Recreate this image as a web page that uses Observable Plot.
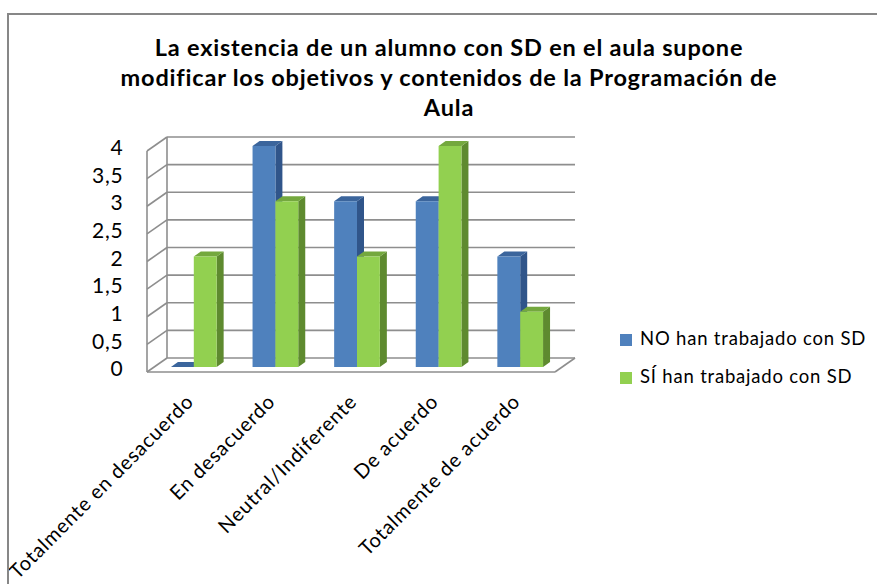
<!DOCTYPE html>
<html><head><meta charset="utf-8">
<script src="https://cdn.jsdelivr.net/npm/d3@7"></script>
<script src="https://cdn.jsdelivr.net/npm/@observablehq/plot@0.6"></script>
<style>
body{margin:0;background:#fff;}
#wrap{position:relative;width:877px;height:584px;overflow:hidden;font-family:Lato,"Open Sans",sans-serif;color:#000;}
#frame{position:absolute;left:7px;top:13px;width:920px;height:620px;border-left:2px solid #878787;border-top:2px solid #878787;box-sizing:border-box;pointer-events:none;}
#chart{position:absolute;left:0;top:0;}
#chart text{letter-spacing:0.8px;}
#title{position:absolute;left:0;width:898px;top:32px;text-align:center;font-weight:bold;font-size:23.5px;letter-spacing:0.8px;line-height:30px;}
.leg{position:absolute;left:620px;font-size:18.5px;letter-spacing:0.8px;line-height:20px;white-space:nowrap;}
.leg span{display:inline-block;width:12px;height:12px;margin-right:8px;vertical-align:-1px;}
</style>
</head><body>
<div id="wrap">
  <div id="chart"></div>
  <div id="title">La existencia de un alumno con SD en el aula supone<br>modificar los objetivos y contenidos de la Programación de<br>Aula</div>
  <div id="legend"></div>
  <div id="frame"></div>
</div>
<script>
const categories = ["Totalmente en desacuerdo","En desacuerdo","Neutral/Indiferente","De acuerdo","Totalmente de acuerdo"];
const seriesNames = ["NO han trabajado con SD","SÍ han trabajado con SD"];
const noValues = [0,4,3,3,2];
const siValues = [2,3,2,4,1];
const yTicks = [0,0.5,1,1.5,2,2.5,3,3.5,4];
const yTickLabels = ["0","0,5","1","1,5","2","2,5","3","3,5","4"];

const colors = [
  {front:"#4f81bd", side:"#30558a", top:"#3b659c"},
  {front:"#92d050", side:"#5e8a2f", top:"#74a83e"}
];

// geometry (pixel offsets for the oblique 3D look)
const SDX = 7, SDY = 5;        // bar depth
const FX = -6, FY = 5;         // front plane offset vs bar plane
const BX = 14, BY = 9;         // back plane offset vs bar plane
const groupStart = 0.22, barW = 0.28;

const rows = [];
categories.forEach((c, i) => {
  rows.push({cat: c, i, s: 0, value: noValues[i]});
  rows.push({cat: c, i, s: 1, value: siValues[i]});
});

function bars3d(s) {
  const col = colors[s];
  return Plot.rect(rows.filter(d => d.s === s), {
    x1: d => d.i + groupStart + d.s * barW,
    x2: d => d.i + groupStart + (d.s + 1) * barW,
    y1: 0, y2: "value", fill: col.front,
    render(index, scales, values) {
      const g = d3.create("svg:g");
      for (const i of index) {
        const x1 = values.x1[i], x2 = values.x2[i];
        const yt = Math.min(values.y1[i], values.y2[i]), yb = Math.max(values.y1[i], values.y2[i]);
        g.append("path").attr("fill", col.side)
          .attr("d", `M${x2},${yb}L${x2+SDX},${yb-SDY}L${x2+SDX},${yt-SDY}L${x2},${yt}Z`);
        g.append("path").attr("fill", col.top)
          .attr("d", `M${x1},${yt}L${x1+SDX},${yt-SDY}L${x2+SDX},${yt-SDY}L${x2},${yt}Z`);
        g.append("rect").attr("fill", col.front)
          .attr("x", x1).attr("y", yt).attr("width", x2 - x1).attr("height", yb - yt);
      }
      return g.node();
    }
  });
}

const walls = Plot.ruleY(yTicks, {
  y: d => d,
  render(index, scales, values, dims) {
    const xL = dims.marginLeft, xR = dims.width - dims.marginRight;
    const y0 = scales.y(0), yTop = scales.y(4);
    const g = d3.create("svg:g").attr("stroke", "#8e8e8e").attr("stroke-width", 1.6).attr("fill", "none");
    g.append("path").attr("fill", "#fff").attr("stroke", "none")
      .attr("d", `M${xL+FX},${y0+FY}L${xR+FX},${y0+FY}L${xR+BX},${y0-BY}L${xL+BX},${y0-BY}Z`);
    for (const i of index) {
      const y = values.y[i];
      g.append("line").attr("x1", xL+BX).attr("x2", xR+BX).attr("y1", y-BY).attr("y2", y-BY);
      g.append("line").attr("x1", xL+FX).attr("x2", xL+BX).attr("y1", y+FY).attr("y2", y-BY);
    }
    g.append("line").attr("x1", xL+BX).attr("x2", xL+BX).attr("y1", y0-BY).attr("y2", yTop-BY);
    g.append("line").attr("x1", xL+FX).attr("x2", xL+FX).attr("y1", y0+FY).attr("y2", yTop+FY);
    g.append("line").attr("x1", xL+FX).attr("x2", xR+FX).attr("y1", y0+FY).attr("y2", y0+FY);
    g.append("line").attr("x1", xR+FX).attr("x2", xR+BX).attr("y1", y0+FY).attr("y2", y0-BY);
    return g.node();
  }
});

const plot = Plot.plot({
  width: 877, height: 584,
  marginLeft: 153, marginRight: 316, marginTop: 146, marginBottom: 217,
  style: {fontFamily: "Lato, 'Open Sans', sans-serif", background: "transparent", overflow: "visible"},
  x: {domain: [0, 5], axis: null},
  y: {domain: [0, 4], axis: null},
  marks: [
    walls,
    bars3d(0),
    bars3d(1),
    Plot.text(yTicks, {x: 0, y: d => d, text: (d, i) => yTickLabels[i], textAnchor: "end", dx: -30, dy: 2, fontSize: 21, fill: "#000"}),
    Plot.text(categories, {x: (d, i) => i + 0.5, y: 0, text: d => d, rotate: -45, textAnchor: "end", dx: -4, dy: 31, fontSize: 20, fill: "#000"})
  ]
});
document.getElementById("chart").appendChild(plot);

const leg = document.getElementById("legend");
seriesNames.forEach((n, s) => {
  const div = document.createElement("div");
  div.className = "leg";
  div.style.top = (328 + s * 38) + "px";
  div.innerHTML = `<span style="background:${colors[s].front}"></span>${n}`;
  leg.appendChild(div);
});
</script>
</body></html>
